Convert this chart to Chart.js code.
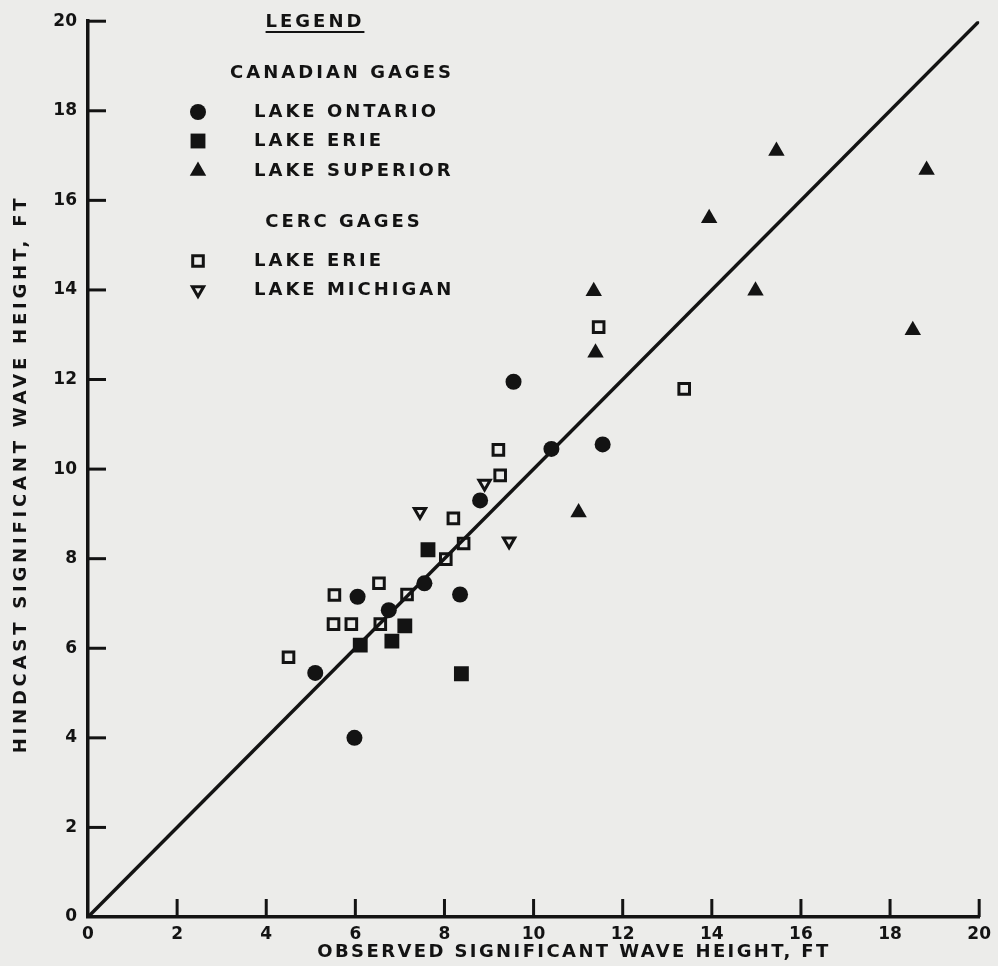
<!DOCTYPE html>
<html>
<head>
<meta charset="utf-8">
<script src="https://cdn.jsdelivr.net/npm/chart.js@4.4.1/dist/chart.umd.min.js"></script>
<style>
  html, body { margin: 0; padding: 0; background: #ececea; }
  #wrap { width: 998px; height: 966px; }
</style>
</head>
<body>
<div id="wrap"><canvas id="chart" width="998" height="966"></canvas></div>
<script>
// axis ticks (ft)
const X_TICKS = [0, 2, 4, 6, 8, 10, 12, 14, 16, 18, 20];
const Y_TICKS = [0, 2, 4, 6, 8, 10, 12, 14, 16, 18, 20];

// observed vs hindcast significant wave height, ft
const ONTARIO = [[5.98, 4.0], [5.1, 5.45], [6.05, 7.15], [6.75, 6.85], [7.55, 7.45],
  [8.35, 7.2], [8.8, 9.3], [10.4, 10.45], [9.55, 11.95], [11.55, 10.55]];
const CAN_ERIE = [[7.63, 8.2], [6.11, 6.07], [6.82, 6.16], [7.11, 6.5], [8.38, 5.43]];
const SUPERIOR = [[15.45, 17.1], [18.82, 16.68], [13.94, 15.6], [11.35, 13.97], [14.98, 13.98],
  [18.51, 13.1], [11.39, 12.6], [11.01, 9.03]];
const CERC_ERIE = [[4.5, 5.8], [5.53, 7.19], [5.51, 6.54], [5.91, 6.54], [6.53, 7.45],
  [6.56, 6.54], [7.16, 7.2], [8.03, 7.99], [8.43, 8.34], [8.2, 8.9], [9.21, 10.43],
  [9.25, 9.86], [11.46, 13.17], [13.38, 11.79]];
const MICHIGAN = [[7.45, 9.05], [8.9, 9.68], [9.45, 8.39]];
// line of perfect agreement
const AGREEMENT = [[0, 0], [20, 20]];

const INK = "#131313";
const FONT = "DejaVu Sans";
const pts = (arr) => arr.map(([x, y]) => ({ x, y }));

// inward tick marks on both axes
const innerTicks = {
  id: "innerTicks",
  afterDraw(chart) {
    const { ctx, chartArea } = chart;
    const xs = chart.scales.x, ys = chart.scales.y;
    ctx.save();
    ctx.strokeStyle = INK;
    ctx.lineWidth = 3;
    X_TICKS.filter((v) => v > 0).forEach((v) => {
      const px = xs.getPixelForValue(v);
      ctx.beginPath();
      ctx.moveTo(px, chartArea.bottom);
      ctx.lineTo(px, chartArea.bottom - 18);
      ctx.stroke();
    });
    Y_TICKS.filter((v) => v > 0).forEach((v) => {
      const py = ys.getPixelForValue(v);
      ctx.beginPath();
      ctx.moveTo(chartArea.left, py);
      ctx.lineTo(chartArea.left + 18, py);
      ctx.stroke();
    });
    ctx.restore();
  }
};

// axis titles
const axisTitles = {
  id: "axisTitles",
  afterDraw(chart) {
    const { ctx } = chart;
    ctx.save();
    ctx.fillStyle = INK;
    ctx.font = `bold 18px "${FONT}"`;
    ctx.textAlign = "center";
    ctx.textBaseline = "middle";
    ctx.letterSpacing = "2.4px";
    ctx.fillText("OBSERVED SIGNIFICANT WAVE HEIGHT, FT", 574, 952);
    ctx.translate(21, 474);
    ctx.rotate(-Math.PI / 2);
    ctx.letterSpacing = "3.8px";
    ctx.fillText("HINDCAST SIGNIFICANT WAVE HEIGHT, FT", 0, 0);
    ctx.restore();
  }
};

function drawMarker(ctx, ds, x, y) {
  ctx.save();
  ctx.fillStyle = ds.backgroundColor;
  ctx.strokeStyle = ds.borderColor;
  ctx.lineWidth = ds.borderWidth;
  const r = ds.pointRadius;
  const rot = (ds.pointRotation || 0) * Math.PI / 180;
  ctx.beginPath();
  if (ds.pointStyle === "circle") {
    ctx.arc(x, y, r, 0, Math.PI * 2);
  } else if (ds.pointStyle === "rect") {
    const s = Math.SQRT1_2 * r;
    ctx.rect(x - s, y - s, 2 * s, 2 * s);
  } else {
    let a = rot;
    ctx.moveTo(x + Math.sin(a) * r, y - Math.cos(a) * r);
    a += 2 * Math.PI / 3;
    ctx.lineTo(x + Math.sin(a) * r, y - Math.cos(a) * r);
    a += 2 * Math.PI / 3;
    ctx.lineTo(x + Math.sin(a) * r, y - Math.cos(a) * r);
    ctx.closePath();
  }
  ctx.fill();
  if (ds.borderWidth > 0) ctx.stroke();
  ctx.restore();
}

// legend block inside the plot
const legendBlock = {
  id: "legendBlock",
  afterDraw(chart) {
    const { ctx } = chart;
    const sets = chart.data.datasets;
    ctx.save();
    ctx.fillStyle = INK;
    ctx.textBaseline = "middle";
    ctx.font = `bold 18px "${FONT}"`;
    ctx.letterSpacing = "3px";
    ctx.textAlign = "center";
    ctx.fillText("LEGEND", 315, 22);
    const w = ctx.measureText("LEGEND").width;
    ctx.fillRect(315 - w / 2, 31, w, 2);
    ctx.fillText("CANADIAN GAGES", 342, 73);
    ctx.fillText("CERC GAGES", 344, 222);
    ctx.textAlign = "left";
    const rows = [112, 141, 171, 261, 290];
    sets.slice(0, 5).forEach((ds, i) => {
      drawMarker(ctx, ds, 198, rows[i]);
      ctx.fillStyle = INK;
      ctx.fillText(ds.label, 254, rows[i]);
    });
    ctx.restore();
  }
};

const tickFont = { family: FONT, size: 17, weight: "bold" };

new Chart(document.getElementById("chart"), {
  type: "scatter",
  data: {
    datasets: [
      { label: "LAKE ONTARIO", data: pts(ONTARIO), pointStyle: "circle", pointRadius: 8,
        backgroundColor: INK, borderColor: INK, borderWidth: 0 },
      { label: "LAKE ERIE", data: pts(CAN_ERIE), pointStyle: "rect", pointRadius: 10.5,
        backgroundColor: INK, borderColor: INK, borderWidth: 0 },
      { label: "LAKE SUPERIOR", data: pts(SUPERIOR), pointStyle: "triangle", pointRadius: 9.5,
        backgroundColor: INK, borderColor: INK, borderWidth: 0 },
      { label: "LAKE ERIE", data: pts(CERC_ERIE), pointStyle: "rect", pointRadius: 7.5,
        backgroundColor: "rgba(0,0,0,0)", borderColor: INK, borderWidth: 3 },
      { label: "LAKE MICHIGAN", data: pts(MICHIGAN), pointStyle: "triangle", pointRotation: 180,
        pointRadius: 6.5, backgroundColor: "rgba(0,0,0,0)", borderColor: INK, borderWidth: 3 },
      { type: "line", label: "agreement", data: pts(AGREEMENT), borderColor: INK, borderWidth: 3.5,
        pointRadius: 0, fill: false, showLine: true }
    ]
  },
  options: {
    responsive: false,
    animation: false,
    devicePixelRatio: 1,
    layout: { padding: { top: 18, right: 13, bottom: 0, left: 0 } },
    plugins: { legend: { display: false }, tooltip: { enabled: false } },
    scales: {
      x: {
        type: "linear", min: 0, max: 20,
        afterBuildTicks: (s) => { s.ticks = X_TICKS.map((v) => ({ value: v })); },
        afterFit: (s) => { s.height = 49; },
        grid: { display: false, drawTicks: false },
        border: { display: true, color: INK, width: 3.5 },
        ticks: { color: INK, font: tickFont, padding: 7, maxRotation: 0 }
      },
      y: {
        type: "linear", min: 0, max: 20,
        afterBuildTicks: (s) => { s.ticks = Y_TICKS.map((v) => ({ value: v })); },
        afterFit: (s) => { s.width = 88; },
        grid: { display: false, drawTicks: false },
        border: { display: true, color: INK, width: 3.5 },
        ticks: { color: INK, font: tickFont, padding: 11 }
      }
    }
  },
  plugins: [innerTicks, axisTitles, legendBlock]
});
</script>
</body>
</html>
